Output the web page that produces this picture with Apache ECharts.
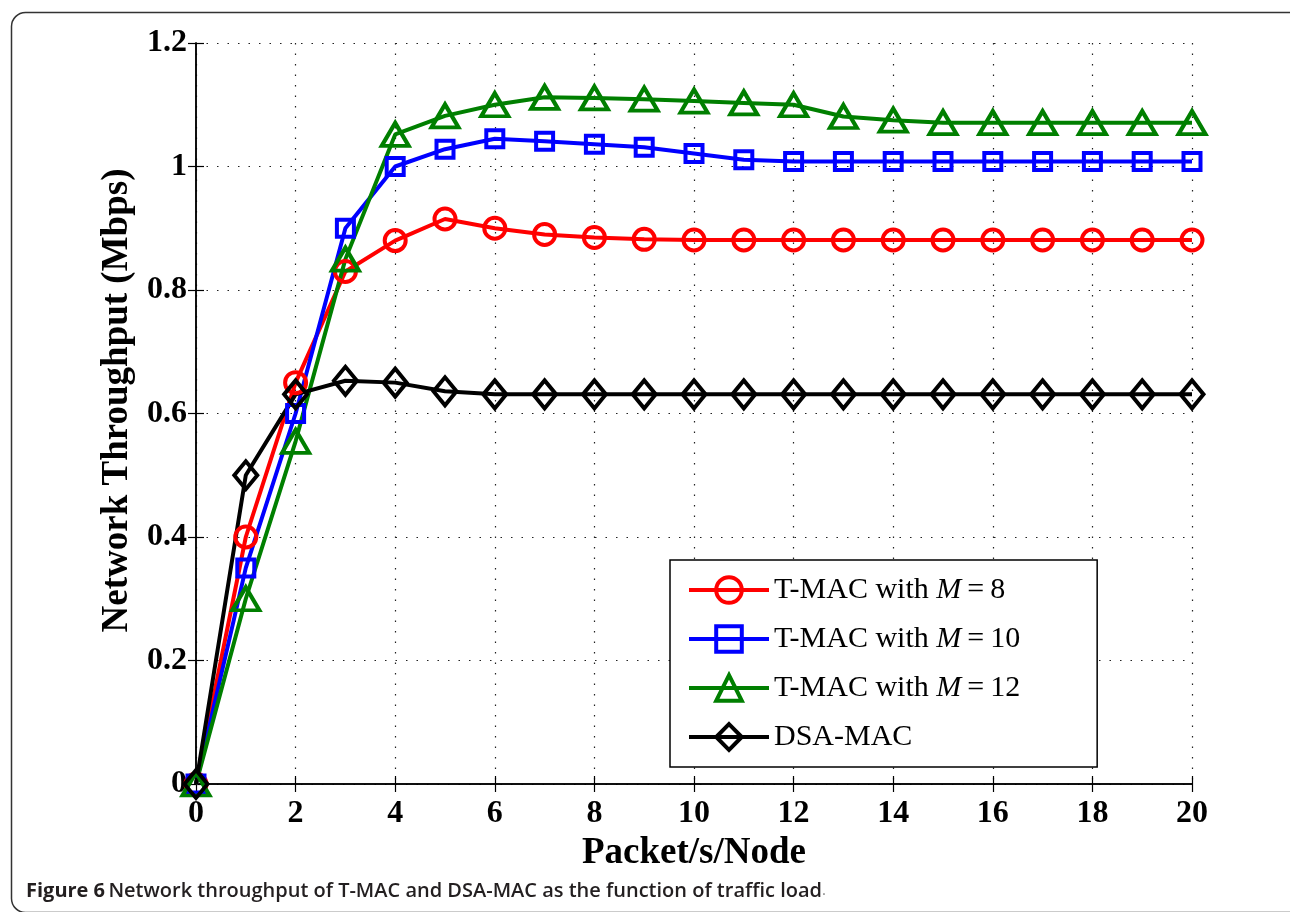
<!DOCTYPE html>
<html>
<head>
<meta charset="utf-8">
<script src="https://cdn.jsdelivr.net/npm/echarts@6/dist/echarts.min.js"></script>
<style>
html,body{margin:0;padding:0;background:#fff;}
#chart{width:1290px;height:912px;}
</style>
</head>
<body>
<div id="chart"></div>
<script>
// ---- data ----
const xValues = [0,1,2,3,4,5,6,7,8,9,10,11,12,13,14,15,16,17,18,19,20];
const tmacM8  = [0,0.40,0.65,0.83,0.88,0.915,0.90,0.89,0.885,0.882,0.881,0.881,0.881,0.881,0.881,0.881,0.881,0.881,0.881,0.881,0.881];
const tmacM10 = [0,0.35,0.60,0.90,1.00,1.028,1.045,1.041,1.036,1.031,1.021,1.011,1.008,1.008,1.008,1.008,1.008,1.008,1.008,1.008,1.008];
const tmacM12 = [0,0.30,0.555,0.85,1.052,1.082,1.10,1.112,1.111,1.109,1.106,1.103,1.10,1.081,1.075,1.071,1.071,1.071,1.071,1.071,1.071];
const dsaMac  = [0,0.50,0.631,0.653,0.650,0.636,0.631,0.631,0.631,0.631,0.631,0.631,0.631,0.631,0.631,0.631,0.631,0.631,0.631,0.631,0.631];
const seriesNames = ['T-MAC with M=8','T-MAC with M=10','T-MAC with M=12','DSA-MAC'];
const xTitle = 'Packet/s/Node';
const yTitle = 'Network Throughput (Mbps)';
const captionBold = 'Figure 6';
const captionText = 'Network throughput of T-MAC and DSA-MAC as the function of traffic load';

const pairs = arr => xValues.map((x, i) => [x, arr[i]]);
const serif = 'Liberation Serif';

function mkSeries(name, arr, color, symbol, size) {
  return {
    name: name,
    type: 'line',
    data: pairs(arr),
    symbol: symbol,
    symbolSize: size,
    showSymbol: true,
    clip: false,
    lineStyle: {color: color, width: 4},
    itemStyle: {color: 'rgba(255,255,255,0)', borderColor: color, borderWidth: 4},
    emphasis: {disabled: true},
    animation: false
  };
}

const chart = echarts.init(document.getElementById('chart'), null, {renderer: 'canvas'});
const gridLine = {show: true, lineStyle: {color: '#222', width: 1.2, type: [1.5, 9]}};
const axisLine = {show: true, lineStyle: {color: '#000', width: 1.5}};
const tick = {show: true, inside: true, length: 8, lineStyle: {color: '#000', width: 1.2}};

chart.setOption({
  backgroundColor: '#fff',
  animation: false,
  grid: {left: 196, right: 98, top: 43, bottom: 128, containLabel: false},
  xAxis: [{
    type: 'value', min: 0, max: 20, interval: 2,
    name: xTitle, nameLocation: 'middle', nameGap: 46,
    nameTextStyle: {fontFamily: serif, fontWeight: 'bold', fontSize: 37, color: '#000'},
    axisLine: axisLine,
    axisTick: tick,
    axisLabel: {fontFamily: serif, fontWeight: 'bold', fontSize: 32, color: '#000', margin: 14},
    splitLine: gridLine
  }, {
    type: 'value', min: 0, max: 20, interval: 2, position: 'top',
    axisLine: axisLine,
    axisTick: tick,
    axisLabel: {show: false}, splitLine: {show: false}
  }],
  yAxis: [{
    type: 'value', min: 0, max: 1.2, interval: 0.2,
    name: yTitle, nameLocation: 'middle', nameGap: 60,
    nameTextStyle: {fontFamily: serif, fontWeight: 'bold', fontSize: 37, color: '#000', padding: [0, 0, 0, 26]},
    axisLine: axisLine,
    axisTick: tick,
    axisLabel: {fontFamily: serif, fontWeight: 'bold', fontSize: 32, color: '#000', margin: 9},
    splitLine: gridLine
  }, {
    type: 'value', min: 0, max: 1.2, interval: 0.2, position: 'right',
    axisLine: axisLine,
    axisTick: tick,
    axisLabel: {show: false}, splitLine: {show: false}
  }],
  legend: {
    orient: 'vertical',
    left: 670, top: 560,
    padding: [15, 77, 15, 17],
    itemGap: 19,
    itemWidth: 80, itemHeight: 32,
    backgroundColor: '#fff',
    borderColor: '#000', borderWidth: 1.5,
    itemStyle: {borderWidth: 4},
    lineStyle: {width: 4},
    z: 10,
    data: seriesNames,
    formatter: function (name) {
      const m = name.match(/^(.*)M=(\d+)$/);
      if (m) return '{a|' + m[1] + '}{i|M}{a|\u2009=\u2009' + m[2] + '}';
      return '{a|' + name + '}';
    },
    textStyle: {
      fontFamily: serif, fontSize: 30, color: '#000',
      rich: {
        a: {fontFamily: serif, fontSize: 30, color: '#000'},
        i: {fontFamily: serif, fontSize: 30, color: '#000', fontStyle: 'italic'}
      }
    }
  },
  graphic: [
    {type: 'rect', left: 9, top: 10, silent: true, z: -10,
     shape: {width: 1300, height: 900, r: 14},
     style: {fill: 'none', stroke: '#333', lineWidth: 1.5}},
    {type: 'text', left: 26, top: 881, silent: true,
     style: {
       text: '{b|' + captionBold + '} {r|' + captionText + '}{p|.}',
       rich: {
         b: {fontFamily: 'Open Sans', fontWeight: 'bold', fontSize: 20, fill: '#231f20'},
         r: {fontFamily: 'Open Sans', fontWeight: 600, fontSize: 20, fill: '#231f20'},
         p: {fontFamily: 'Open Sans', fontWeight: 400, fontSize: 15, fill: '#888'}
       }
     }}
  ],
  series: [
    mkSeries(seriesNames[0], tmacM8, '#ff0000', 'circle', 21),
    mkSeries(seriesNames[1], tmacM10, '#0000ff', 'rect', 17),
    mkSeries(seriesNames[2], tmacM12, '#007f00', 'triangle', [27, 23]),
    mkSeries(seriesNames[3], dsaMac, '#000000', 'diamond', [23, 28])
  ]
});
</script>
</body>
</html>
